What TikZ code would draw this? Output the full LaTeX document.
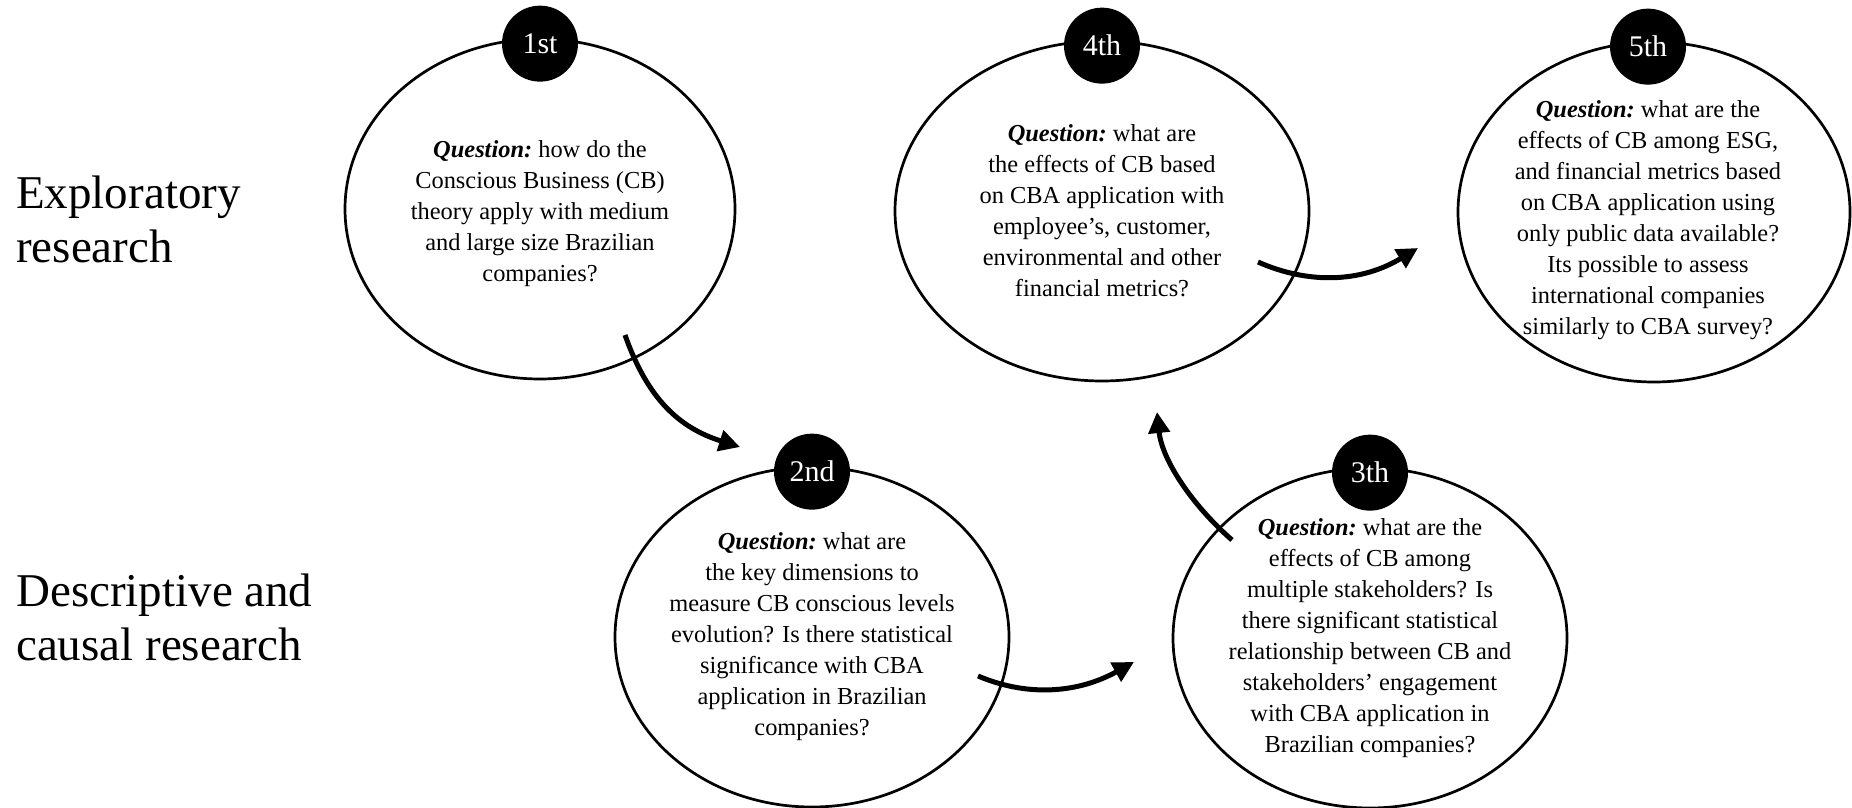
\documentclass[tikz,border=0pt]{standalone}
\usepackage{fontspec}
\setmainfont{Liberation Serif}
\usetikzlibrary{arrows.meta,shapes.geometric}
\newcommand{\qlabel}{{\bfseries\itshape Question:}\kern-2pt}
\begin{document}
\begin{tikzpicture}[x=1pt,y=-1pt,
  stage/.style={draw, ellipse, line width=2.7pt, fill=white,
    minimum width=#1, minimum height=340pt, inner sep=0pt},
  stage/.default=400pt,
  badge/.style={circle, fill=black, minimum size=76pt, inner sep=0pt,
    text=white, font=\fontsize{30}{30}\selectfont},
  question/.style={align=center, inner sep=0pt,
    font=\fontsize{24.4}{31}\selectfont},
  phase/.style={align=left, anchor=base west, inner sep=0pt,
    font=\fontsize{47}{54}\selectfont},
  flow/.style={line width=5pt, -{Triangle[length=21pt,width=21pt]}}]

\useasboundingbox (0,0) rectangle (1852,808);

% research phases (anchored on the baseline of the last line)
\node[phase] (explo) at (16,262) {Exploratory\\research};
\node[phase] (desc) at (16,660) {Descriptive and\\causal research};

% study stages
\node[stage=390pt] (e1) at (540,209) {};
\node[stage=414pt] (e4) at (1102,211) {};
\node[stage=392pt] (e5) at (1654,212) {};
\node[stage=394pt] (e2) at (812,637) {};
\node[stage=394pt] (e3) at (1370,638) {};

\node[question] (q1) at ([yshift=-5pt]e1.center) {\qlabel{} how do the\\Conscious Business (CB)\\theory apply with medium\\and large size Brazilian\\companies?};
\node[question] (q4) at (e4.center) {\qlabel{} what are\\the effects of CB based\\on CBA application with\\employee’s, customer,\\environmental and other\\financial metrics?};
\node[question] (q5) at ([xshift=-6pt,yshift=-8pt]e5.center) {\qlabel{} what are the\\effects of CB among ESG,\\and financial metrics based\\on CBA application using\\only public data available?\\Its possible to assess\\international companies\\similarly to CBA survey?};
\node[question] (q2) at (e2.center) {\qlabel{} what are\\the key dimensions to\\measure CB conscious levels\\evolution? Is there statistical\\significance with CBA\\application in Brazilian\\companies?};
\node[question] (q3) at (e3.center) {\qlabel{} what are the\\effects of CB among\\multiple stakeholders? Is\\there significant statistical\\relationship between CB and\\stakeholders’ engagement\\with CBA application in\\Brazilian companies?};

% order badges
\node[badge] (b1) at ([yshift=-6pt]e1.north) {1st};
\node[badge] (b4) at ([yshift=-6pt]e4.north) {4th};
\node[badge] (b5) at ([xshift=-6pt,yshift=-6pt]e5.north) {5th};
\node[badge] (b2) at ([yshift=-6pt]e2.north) {2nd};
\node[badge] (b3) at ([yshift=-6pt]e3.north) {3th};

% sequence arrows
\coordinate (a1s) at (625,335);  \coordinate (a1e) at (740,447);
\coordinate (a2s) at (978,676);  \coordinate (a2e) at (1134,662);
\coordinate (a3s) at (1232,540); \coordinate (a3e) at (1157,412);
\coordinate (a4s) at (1258,262); \coordinate (a4e) at (1418,248);

\draw[flow] (a1s) .. controls (648,400) and (680,428) .. (a1e);
\draw[flow] (a2s) .. controls (1030,698) and (1080,692) .. (a2e);
\draw[flow] (a3s) .. controls (1192,505) and (1162,460) .. (a3e);
\draw[flow] (a4s) .. controls (1310,285) and (1362,282) .. (a4e);
\end{tikzpicture}
\end{document}
